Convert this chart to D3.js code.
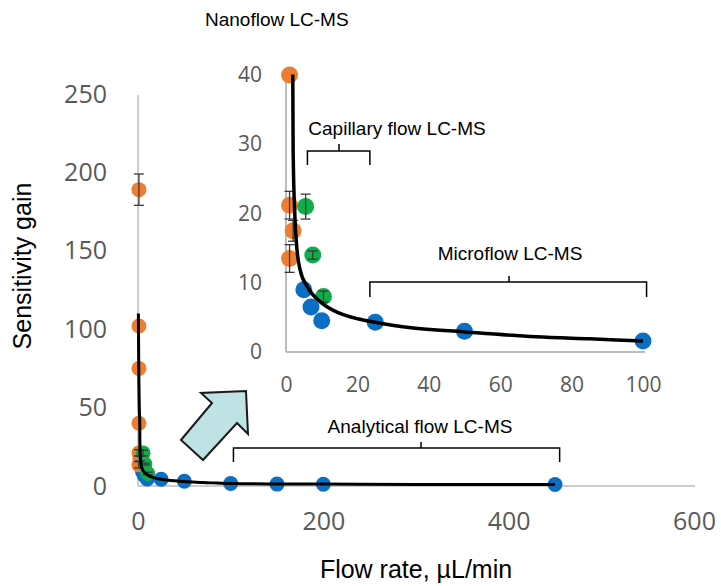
<!DOCTYPE html>
<html>
<head>
<meta charset="utf-8">
<script src="https://cdn.jsdelivr.net/npm/d3@7"></script>
<style>
  body { margin: 0; background: #fff; }
  .tick-main { font-family: 'Open Sans', sans-serif; font-size: 25px; fill: #595959; }
  .tick-inset { font-family: 'Open Sans', sans-serif; font-size: 21px; fill: #595959; }
  .title { font-family: 'Liberation Sans', Arial, sans-serif; font-size: 25px; fill: #000; }
  .note { font-family: 'Liberation Sans', Arial, sans-serif; font-size: 19px; fill: #000; }
</style>
</head>
<body>
<div id="chart"></div>
<script>
'use strict'

// nanoflow (orange), capillary (green), micro/analytical (blue)
const nanoX = [1, 1, 1, 1, 1, 2, 1]
const nanoY = [189, 102, 75, 40, 21.2, 17.5, 13.5]
const nanoErr = [10, 0, 0, 0, 2, 1.5, 2]

const capX = [5.5, 7.5, 10.5]
const capY = [21, 14, 8]
const capErr = [1.8, 0.6, 0.8]

const microX = [5, 7, 10, 25, 50, 100, 150, 200, 450]
const microY = [9, 6.5, 4.5, 4.3, 3, 1.6, 1.2, 1.1, 1.0]

// fitted trend line
const fitX = [0.4, 0.7, 1.0, 1.4, 1.9, 2.0, 2.5, 3, 4, 6, 10, 15, 20, 25, 35, 50, 70, 85, 100, 150, 200, 300, 450]
const fitY = [110, 85, 65, 50, 40, 29, 19.5, 15.2, 11.8, 9.4, 7.1, 5.6, 4.8, 4.3, 3.5, 2.9, 2.2, 1.9, 1.6, 1.3, 1.2, 1.0, 0.9]

const mainXTicks = [0, 200, 400, 600]
const mainYTicks = [0, 50, 100, 150, 200, 250]
const insetXTicks = [0, 20, 40, 60, 80, 100]
const insetYTicks = [0, 10, 20, 30, 40]

const width = 721,
		height = 586

const colors = { nano: '#ED7D31', cap: '#12AD4B', micro: '#0A6FC2' }

const svg = d3.select('#chart').append('svg')
	.attr('width', width)
	.attr('height', height)

const zip = (xs, ys, errs) => xs.map((x, i) => ({ x: x, y: ys[i], err: errs ? errs[i] : 0 }))
const nano = zip(nanoX, nanoY, nanoErr)
const cap = zip(capX, capY, capErr)
const micro = zip(microX, microY)
const fit = zip(fitX, fitY)

const drawPanel = (g, x, y, opts) => {
	const [x0, x1] = x.range()
	const [y0, y1] = y.range()

	// axis lines
	g.append('line')
		.attr('x1', x0).attr('x2', opts.xEnd)
		.attr('y1', y0).attr('y2', y0)
		.attr('stroke', opts.axisColor).attr('stroke-width', opts.axisWidth)
	g.append('line')
		.attr('x1', x0).attr('x2', x0)
		.attr('y1', y0).attr('y2', opts.yTop)
		.attr('stroke', opts.axisColor).attr('stroke-width', opts.axisWidth)

	const xAxis = g.append('g')
		.attr('transform', `translate(0,${y0 + opts.xLabelGap})`)
		.call(d3.axisBottom(x).tickValues(opts.xTicks).tickSize(0).tickPadding(0))
	const yAxis = g.append('g')
		.attr('transform', `translate(${x0 - opts.yLabelGap},0)`)
		.call(d3.axisLeft(y).tickValues(opts.yTicks).tickSize(0).tickPadding(0))
	;[xAxis, yAxis].forEach((a) => {
		a.select('.domain').remove()
		a.selectAll('text').attr('class', opts.tickClass).attr('fill', null)
			.attr('font-size', null).attr('font-family', null)
	})
	xAxis.selectAll('text').attr('dy', '0.71em')

	// only the trend line is clipped to the plot area
	const clipId = opts.id + '-clip'
	g.append('clipPath').attr('id', clipId)
		.append('rect')
			.attr('x', x0 - 20).attr('y', y1 - 0.5)
			.attr('width', x1 - x0 + 40).attr('height', y0 - y1 + 20)

	const body = g.append('g')
	const inRange = (d) => d.x <= x.domain()[1] && d.y <= y.domain()[1]

	const dots = (data, color) => {
		body.append('g').selectAll('circle')
			.data(data.filter(inRange))
			.enter().append('circle')
				.attr('cx', (d) => x(d.x))
				.attr('cy', (d) => y(d.y))
				.attr('r', opts.r)
				.attr('fill', color)
	}
	dots(micro, colors.micro)
	dots(nano, colors.nano)
	dots(cap, colors.cap)

	// error bars
	const bars = nano.concat(cap).filter((d) => d.err > 0 && inRange(d))
	const eb = body.append('g')
		.attr('stroke', '#3a3a3a')
		.attr('stroke-width', 1.3)
		.selectAll('g')
		.data(bars)
		.enter().append('g')
	eb.append('line')
		.attr('x1', (d) => x(d.x)).attr('x2', (d) => x(d.x))
		.attr('y1', (d) => y(d.y - d.err)).attr('y2', (d) => y(d.y + d.err))
	eb.selectAll('.cap')
		.data((d) => [d.y - d.err, d.y + d.err].map((v) => ({ x: d.x, v: v })))
		.enter().append('line')
			.attr('class', 'cap')
			.attr('x1', (d) => x(d.x) - 5).attr('x2', (d) => x(d.x) + 5)
			.attr('y1', (d) => y(d.v)).attr('y2', (d) => y(d.v))

	const line = d3.line()
		.x((d) => x(d.x))
		.y((d) => y(d.y))
		.curve(d3.curveMonotoneX)
	body.append('path')
		.datum(fit.filter((d) => d.x <= x.domain()[1]))
		.attr('clip-path', opts.clip ? `url(#${clipId})` : null)
		.attr('d', line)
		.attr('fill', 'none')
		.attr('stroke', '#000')
		.attr('stroke-width', opts.lineWidth)
		.attr('stroke-linejoin', 'round')
}

// main chart
const xMain = d3.scaleLinear().domain([0, 600]).range([138, 694])
const yMain = d3.scaleLinear().domain([0, 250]).range([486, 94])
drawPanel(svg.append('g'), xMain, yMain, {
	id: 'main', xTicks: mainXTicks, yTicks: mainYTicks, tickClass: 'tick-main',
	xEnd: 695, yTop: 95, xLabelGap: 26, yLabelGap: 31,
	axisColor: '#bdbdbd', axisWidth: 1.5, r: 7.5, lineWidth: 3, clip: false
})

// inset chart
const xInset = d3.scaleLinear().domain([0, 100]).range([286, 643])
const yInset = d3.scaleLinear().domain([0, 40]).range([352, 75])
drawPanel(svg.append('g'), xInset, yInset, {
	id: 'inset', xTicks: insetXTicks, yTicks: insetYTicks, tickClass: 'tick-inset',
	xEnd: 645, yTop: 75, xLabelGap: 25, yLabelGap: 24,
	axisColor: '#bdbdbd', axisWidth: 2, r: 8.5, lineWidth: 3.5, clip: true
})

// axis titles
svg.append('text')
	.attr('class', 'title')
	.attr('x', 416).attr('y', 578)
	.attr('text-anchor', 'middle')
	.text('Flow rate, µL/min')
svg.append('text')
	.attr('class', 'title')
	.attr('transform', 'translate(31,266) rotate(-90)')
	.attr('text-anchor', 'middle')
	.text('Sensitivity gain')

// range brackets with a small stem, label above
const bracket = (x1, x2, yTop, yBottom, stemX, stemTop, label, labelX, labelY) => {
	svg.append('path')
		.attr('d', `M${x1},${yBottom}V${yTop}H${x2}V${yBottom}M${stemX},${yTop}V${stemTop}`)
		.attr('fill', 'none')
		.attr('stroke', '#000')
		.attr('stroke-width', 1.5)
	svg.append('text')
		.attr('class', 'note')
		.attr('x', labelX).attr('y', labelY)
		.attr('text-anchor', 'middle')
		.text(label)
}
bracket(xInset(6), xInset(23.5), 151, 165, 339, 144, 'Capillary flow LC-MS', 397, 135)
bracket(xInset(23.5), xInset(101), 282, 297, 509, 276, 'Microflow LC-MS', 510, 260)
bracket(xMain(103), xMain(455), 448, 462, 421, 442, 'Analytical flow LC-MS', 420, 433)

svg.append('text')
	.attr('class', 'note')
	.attr('x', 205).attr('y', 26)
	.text('Nanoflow LC-MS')

// block arrow pointing at the inset
const arrowPts = [[181, 440], [212, 403], [201, 393], [246, 391], [248, 434], [237, 423], [203, 460]]
svg.append('path')
	.attr('d', d3.line()(arrowPts) + 'Z')
	.attr('fill', '#bfe2e4')
	.attr('stroke', '#1a1a1a')
	.attr('stroke-width', 2)
	.attr('stroke-linejoin', 'miter')
</script>
</body>
</html>
